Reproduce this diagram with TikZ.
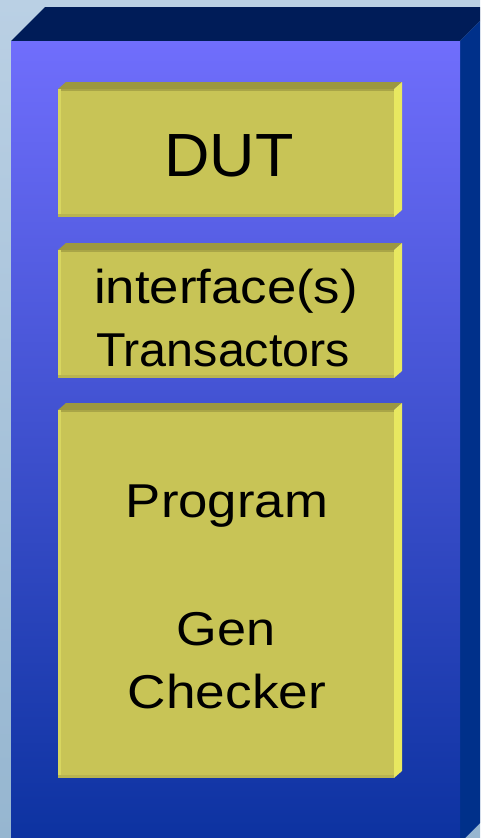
\documentclass[tikz,border=0pt]{standalone}
\usepackage{fontspec}
\setmainfont{Liberation Sans}
\definecolor{bgtop}{RGB}{186,208,228}
\definecolor{bgbot}{RGB}{150,182,208}
\definecolor{fronttop}{RGB}{112,110,252}
\definecolor{frontbot}{RGB}{12,50,160}
\definecolor{topface}{RGB}{0,28,88}
\definecolor{sideface}{RGB}{0,48,138}
\definecolor{yfront}{RGB}{200,196,86}
\definecolor{ytop}{RGB}{156,152,64}
\definecolor{yside}{RGB}{232,232,96}
\definecolor{yleft}{RGB}{216,214,96}
\definecolor{ybot}{RGB}{184,180,80}
\tikzset{
  bigtext/.style={font=\fontsize{47.5}{56}\selectfont, text=black, inner sep=0pt, anchor=base},
  dutstyle/.style={font=\fontsize{61}{70}\selectfont, text=black, inner sep=0pt, anchor=base},
}
\newcommand{\ybox}[4]{% x1 y1 x2 y2 (front face)
  \fill[ytop] (#1,#2) -- (#1+8,#2-7) -- (#3+8,#2-7) -- (#3,#2) -- cycle;
  \fill[yside] (#3,#2) -- (#3+8,#2-7) -- (#3+8,#4-7) -- (#3,#4) -- cycle;
  \fill[yfront] (#1,#2) rectangle (#3,#4);
  \fill[ytop!70!yfront] (#1,#2) rectangle (#3,#2+2);
  \fill[yleft] (#1,#2) rectangle (#1+3,#4);
  \fill[ybot] (#1,#4-3) rectangle (#3,#4);
}
\begin{document}
\begin{tikzpicture}[x=1pt,y=-1pt]
\useasboundingbox (0,0) rectangle (480,838);
\clip (0,0) rectangle (480,838);
% background
\shade[top color=bgtop, bottom color=bgbot] (0,0) rectangle (480,838);
% big 3D box
\fill[topface] (11,41) -- (45,7) -- (494,7) -- (460,41) -- cycle;
\fill[sideface] (460,41) -- (494,7) -- (494,809) -- (460,843) -- cycle;
\shade[top color=fronttop, bottom color=frontbot] (11,41) rectangle (460,843);
% yellow boxes
\ybox{58}{89}{394}{217}
\ybox{58}{250}{394}{378}
\ybox{58}{410}{394}{778}
% texts
\node[dutstyle] (dut) at (229,176) {\scalebox{1.03}[1]{DUT}};
\node[bigtext] (iface) at (226,303) {\scalebox{1.11}[1]{interface(s)}};
\node[bigtext] (trans) at (223,366) {\scalebox{1.02}[1]{Transactors}};
\node[bigtext] (prog) at (227,517) {\scalebox{1.11}[1]{Program}};
\node[bigtext] (gen) at (226,645) {\scalebox{1.1}[1]{Gen}};
\node[bigtext] (checker) at (227,708) {\scalebox{1.12}[1]{Checker}};
\end{tikzpicture}
\end{document}
